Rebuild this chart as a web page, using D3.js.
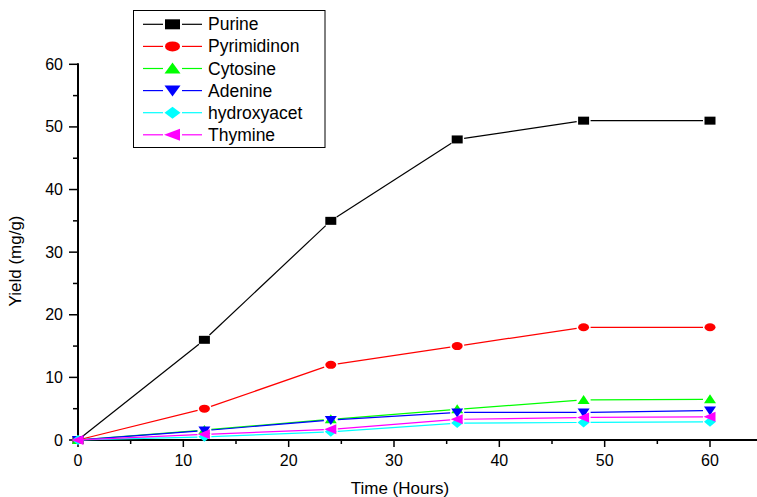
<!DOCTYPE html>
<html>
<head>
<meta charset="utf-8">
<script src="https://cdn.jsdelivr.net/npm/d3@7"></script>
<style>
  html, body { margin: 0; padding: 0; background: #fff; }
  svg { display: block; font-family: "Liberation Sans", Arial, sans-serif; }
</style>
</head>
<body>
<svg id="chart" width="757" height="497"></svg>
<script>
// time points (hours)
var hours = [0, 12, 24, 36, 48, 60];
// yields (mg/g)
var purine      = [0, 16, 35, 48, 51, 51];
var pyrimidinon = [0, 5, 12, 15, 18, 18];
var cytosine    = [0, 1.6, 3.3, 4.9, 6.4, 6.5];
var adenine     = [0, 1.5, 3.2, 4.4, 4.4, 4.7];
var hydroxyacet = [0, 0.5, 1.3, 2.7, 2.8, 2.9];
var thymine     = [0, 0.9, 1.7, 3.3, 3.6, 3.7];
var seriesNames = ["Purine", "Pyrimidinon", "Cytosine", "Adenine", "hydroxyacet", "Thymine"];
var xTicks = [0, 10, 20, 30, 40, 50, 60];
var yTicks = [0, 10, 20, 30, 40, 50, 60];

var series = [
  {name: seriesNames[0], values: purine,      color: "#000000", sym: "square"},
  {name: seriesNames[1], values: pyrimidinon, color: "#ff0000", sym: "circle"},
  {name: seriesNames[2], values: cytosine,    color: "#00ff00", sym: "up"},
  {name: seriesNames[3], values: adenine,     color: "#0000ff", sym: "down"},
  {name: seriesNames[4], values: hydroxyacet, color: "#00ffff", sym: "diamond"},
  {name: seriesNames[5], values: thymine,     color: "#ff00ff", sym: "left"}
];

var svg = d3.select("#chart");
var x0 = 78, y0 = 440;
var x = d3.scaleLinear().domain([0, 60]).range([x0, 710]);
var y = d3.scaleLinear().domain([0, 60]).range([y0, 64.3]);

// symbol path centred at 0,0, w x h box
function symbolPath(type, w, h) {
  var a = w / 2, b = h / 2;
  if (type == "square") return "M" + (-a) + "," + (-b) + "H" + a + "V" + b + "H" + (-a) + "Z";
  if (type == "circle") {
    return "M" + (-a) + ",0A" + a + "," + b + " 0 1,0 " + a + ",0A" + a + "," + b + " 0 1,0 " + (-a) + ",0Z";
  }
  if (type == "up") return "M0," + (-b - 1) + "L" + (a + 0.5) + "," + (b) + "H" + (-a - 0.5) + "Z";
  if (type == "down") return "M0," + (b + 1) + "L" + (a + 0.5) + "," + (-b) + "H" + (-a - 0.5) + "Z";
  if (type == "diamond") return "M0," + (-b - 1) + "L" + (a + 0.5) + ",0L0," + (b + 1) + "L" + (-a - 0.5) + ",0Z";
  if (type == "left") return "M" + (-a - 1) + ",0L" + (a) + "," + (-b - 1) + "V" + (b + 1) + "Z";
}

// axes
var xAxisEnd = 757;
svg.append("line").attr("x1", x0).attr("x2", xAxisEnd).attr("y1", y0).attr("y2", y0)
  .attr("stroke", "#000").attr("stroke-width", 2);
svg.append("line").attr("x1", x0).attr("x2", x0).attr("y1", y0 + 1).attr("y2", y(60) - 1)
  .attr("stroke", "#000").attr("stroke-width", 2);

var xMinor = d3.range(5, 65, 10);
xTicks.forEach(function(t){
  svg.append("line").attr("x1", x(t)).attr("x2", x(t)).attr("y1", y0).attr("y2", y0 + 7)
    .attr("stroke", "#000").attr("stroke-width", 1.5);
  svg.append("text").attr("x", x(t)).attr("y", y0 + 26).attr("text-anchor", "middle")
    .attr("font-size", 16).text(t);
});
xMinor.forEach(function(t){
  svg.append("line").attr("x1", x(t)).attr("x2", x(t)).attr("y1", y0).attr("y2", y0 + 4)
    .attr("stroke", "#000").attr("stroke-width", 1.5);
});
var yMinor = d3.range(5, 60, 10);
yTicks.forEach(function(t){
  svg.append("line").attr("x1", x0 - 9).attr("x2", x0).attr("y1", y(t)).attr("y2", y(t))
    .attr("stroke", "#000").attr("stroke-width", 1.5);
  svg.append("text").attr("x", x0 - 15).attr("y", y(t) + 5.5).attr("text-anchor", "end")
    .attr("font-size", 16).text(t);
});
yMinor.forEach(function(t){
  svg.append("line").attr("x1", x0 - 5).attr("x2", x0).attr("y1", y(t)).attr("y2", y(t))
    .attr("stroke", "#000").attr("stroke-width", 1.5);
});

svg.append("text").attr("x", 400).attr("y", 494).attr("text-anchor", "middle")
  .attr("font-size", 17).text("Time (Hours)");
svg.append("text").attr("transform", "translate(21,261) rotate(-90)").attr("text-anchor", "middle")
  .attr("font-size", 17).text("Yield (mg/g)");

// series: lines with small gaps around the symbols, then symbols
var gap = 7;
series.forEach(function(s){
  var g = svg.append("g");
  for (var i = 0; i < hours.length - 1; i++) {
    var ax = x(hours[i]), ay = y(s.values[i]), bx = x(hours[i + 1]), by = y(s.values[i + 1]);
    var dx = bx - ax, dy = by - ay, len = Math.sqrt(dx * dx + dy * dy);
    var g0 = i == 0 ? 2 : gap;
    if (len <= g0 + gap) continue;
    g.append("line")
      .attr("x1", ax + dx / len * g0).attr("y1", ay + dy / len * g0)
      .attr("x2", bx - dx / len * gap).attr("y2", by - dy / len * gap)
      .attr("stroke", s.color).attr("stroke-width", 1.2);
  }
  g.selectAll("path").data(s.values).enter().append("path")
    .attr("d", symbolPath(s.sym, 11, 8))
    .attr("transform", function(d, i){ return "translate(" + x(hours[i]) + "," + y(d) + ")"; })
    .attr("fill", s.color);
});

// legend
var legend = svg.append("g");
legend.append("rect").attr("x", 133.5).attr("y", 10.5).attr("width", 191.5).attr("height", 137)
  .attr("fill", "#fff").attr("stroke", "#000").attr("stroke-width", 1);
series.forEach(function(s, i){
  var ly = 24.3 + i * 22.1;
  legend.append("line").attr("x1", 143).attr("x2", 163).attr("y1", ly).attr("y2", ly)
    .attr("stroke", s.color).attr("stroke-width", 1.2);
  legend.append("line").attr("x1", 182).attr("x2", 202).attr("y1", ly).attr("y2", ly)
    .attr("stroke", s.color).attr("stroke-width", 1.2);
  legend.append("path").attr("d", symbolPath(s.sym, 15, 10))
    .attr("transform", "translate(172.5," + ly + ")").attr("fill", s.color);
  legend.append("text").attr("x", 208).attr("y", ly + 6).attr("font-size", 17.5).text(s.name);
});
</script>
</body>
</html>
